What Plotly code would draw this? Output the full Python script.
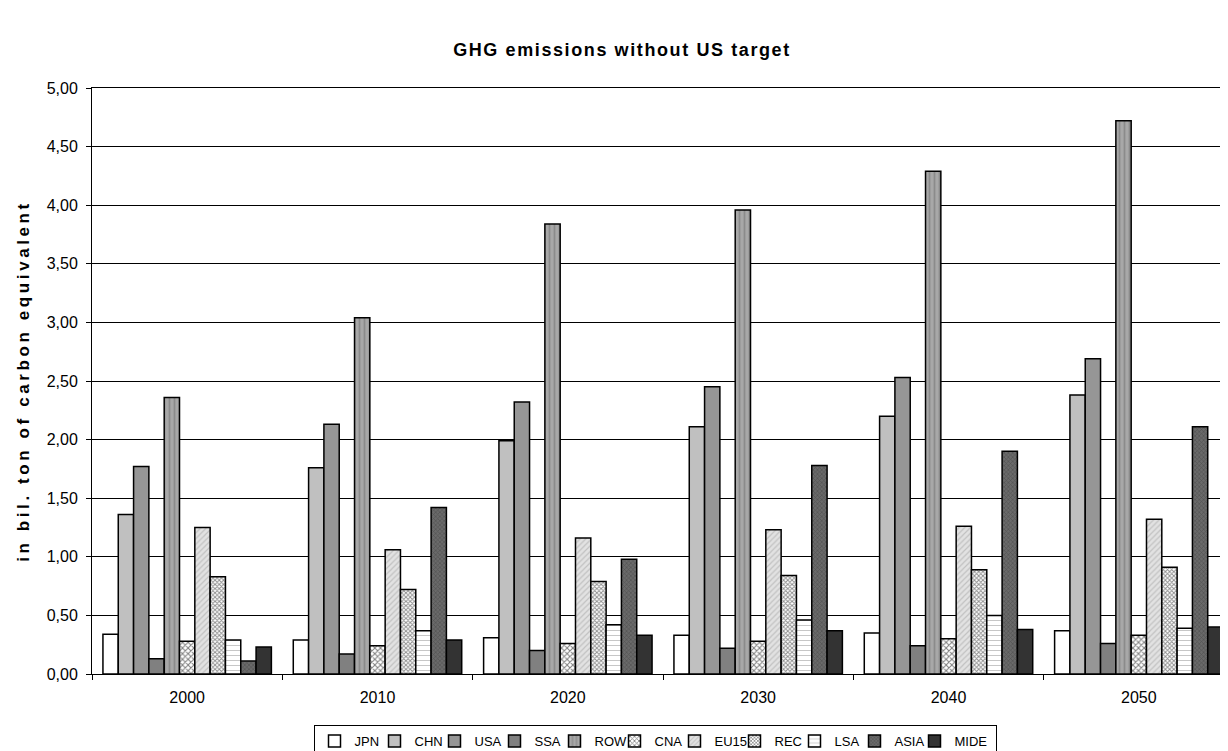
import plotly.graph_objects as go

years = ["2000", "2010", "2020", "2030", "2040", "2050"]
regions = ["JPN", "CHN", "USA", "SSA", "ROW", "CNA", "EU15", "REC", "LSA", "ASIA", "MIDE"]

jpn = [0.34, 0.29, 0.31, 0.33, 0.35, 0.37]
chn = [1.36, 1.76, 1.99, 2.11, 2.20, 2.38]
usa = [1.77, 2.13, 2.32, 2.45, 2.53, 2.69]
ssa = [0.13, 0.17, 0.20, 0.22, 0.24, 0.26]
row = [2.36, 3.04, 3.84, 3.96, 4.29, 4.72]
cna = [0.28, 0.24, 0.26, 0.28, 0.30, 0.33]
eu15 = [1.25, 1.06, 1.16, 1.23, 1.26, 1.32]
rec = [0.83, 0.72, 0.79, 0.84, 0.89, 0.91]
lsa = [0.29, 0.37, 0.42, 0.46, 0.50, 0.39]
asia = [0.11, 1.42, 0.98, 1.78, 1.90, 2.11]
mide = [0.23, 0.29, 0.33, 0.37, 0.38, 0.40]

series = [jpn, chn, usa, ssa, row, cna, eu15, rec, lsa, asia, mide]

# fill colour + optional pattern for each region (grey-scale print style)
styles = [
    dict(color="white"),
    dict(color="#C0C0C0"),
    dict(color="#969696"),
    dict(color="#808080"),
    dict(color="#A8A8A8", pattern=dict(shape="|", fgcolor="#6E6E6E", bgcolor="#A8A8A8", size=5, solidity=0.35)),
    dict(color="white", pattern=dict(shape="x", fgcolor="#000000", bgcolor="white", size=4, solidity=0.45)),
    dict(color="#D8D8D8", pattern=dict(shape="/", fgcolor="#A0A0A0", bgcolor="#E2E2E2", size=4, solidity=0.3)),
    dict(color="white", pattern=dict(shape="x", fgcolor="#202020", bgcolor="white", size=3, solidity=0.55)),
    dict(color="white", pattern=dict(shape="-", fgcolor="#909090", bgcolor="white", size=5, solidity=0.2)),
    dict(color="#5A5A5A", pattern=dict(shape="x", fgcolor="#3A3A3A", bgcolor="#6A6A6A", size=3, solidity=0.4)),
    dict(color="#333333"),
]

fig = go.Figure()
for i, (name, vals, st) in enumerate(zip(regions, series, styles)):
    fig.add_trace(
        go.Bar(
            x=years,
            y=vals,
            name=name,
            legendwidth=36 if i == len(regions) - 1 else 15,
            marker=dict(line=dict(color="black", width=1.5), **st),
        )
    )

# the original (exported office chart) has slightly stretched title lettering
title_txt = '<span style="letter-spacing:1.6px"><b>GHG emissions without US target</b></span>'
ytitle_txt = '<span style="letter-spacing:3.6px"><b>in bil. ton of carbon equivalent</b></span>'

fig.update_layout(
    barmode="group",
    bargap=0.115,
    bargroupgap=0,
    width=1228,
    height=751,
    plot_bgcolor="white",
    paper_bgcolor="white",
    separators=",.",
    font=dict(family="Liberation Sans, Arial, sans-serif", size=16, color="black"),
    title=dict(
        text=title_txt,
        x=0.5,
        xanchor="center",
        y=0.945,
        yanchor="middle",
        font=dict(size=18),
    ),
    margin=dict(l=84, r=2, t=80, b=78),
    legend=dict(
        orientation="h",
        x=0.493,
        xanchor="center",
        y=-0.087,
        yanchor="top",
        bordercolor="black",
        borderwidth=1,
        itemwidth=30,
        font=dict(size=13),
        tracegroupgap=0,
    ),
    showlegend=True,
)

fig.update_yaxes(
    range=[0, 5],
    dtick=0.5,
    tickformat=".2f",
    showgrid=True,
    gridcolor="black",
    gridwidth=1,
    showline=True,
    linecolor="black",
    mirror=True,
    ticks="outside",
    ticklen=5,
    tickcolor="black",
    zeroline=False,
    automargin=False,
    ticklabelstandoff=5,
    tickfont=dict(size=16),
    title=dict(text=ytitle_txt, font=dict(size=17), standoff=12),
)
fig.update_xaxes(
    showline=True,
    linecolor="black",
    mirror=True,
    ticks="outside",
    tickson="boundaries",
    ticklen=5,
    tickcolor="black",
    automargin=False,
    ticklabelstandoff=9,
    tickfont=dict(size=16),
)

fig.write_html("out.html")
